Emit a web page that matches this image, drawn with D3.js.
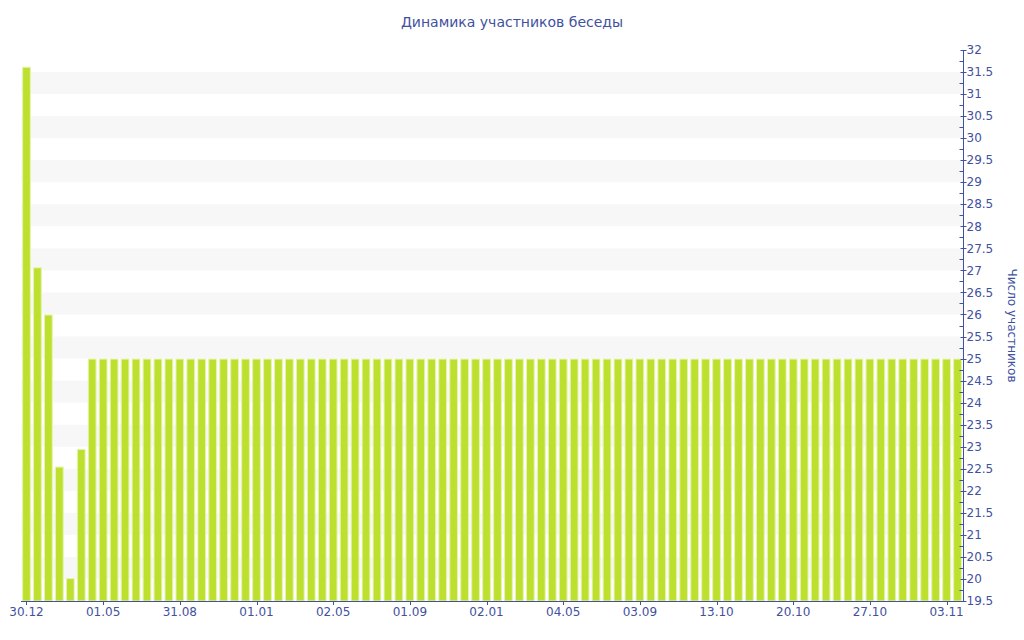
<!DOCTYPE html>
<html>
<head>
<meta charset="utf-8">
<script src="https://cdn.jsdelivr.net/npm/d3@7"></script>
<style>
  html, body { margin: 0; padding: 0; background: #fff; }
  svg { display: block; }
  text { font-family: "DejaVu Sans", Verdana, sans-serif; }
</style>
</head>
<body>
<svg id="chart" width="1024" height="640"></svg>
<script>
// ---- data ----
const title = "Динамика участников беседы";
const yTitle = "Число участников";
const values = [
  31.62, 27.07, 26, 22.55, 20.02, 22.95,
  25, 25, 25, 25, 25, 25, 25, 25, 25, 25,
  25, 25, 25, 25, 25, 25, 25, 25, 25, 25,
  25, 25, 25, 25, 25, 25, 25, 25, 25, 25,
  25, 25, 25, 25, 25, 25, 25, 25, 25, 25,
  25, 25, 25, 25, 25, 25, 25, 25, 25, 25,
  25, 25, 25, 25, 25, 25, 25, 25, 25, 25,
  25, 25, 25, 25, 25, 25, 25, 25, 25, 25,
  25, 25, 25, 25, 25, 25, 25, 25, 25, 25
];
const tickLabels = ["30.12", "01.05", "31.08", "01.01", "02.05", "01.09", "02.01",
                    "04.05", "03.09", "13.10", "20.10", "27.10", "03.11"];
const tickIndices = [0, 7, 14, 21, 28, 35, 42, 49, 56, 63, 70, 77, 84];
const yMin = 19.5, yMax = 32;

// ---- layout ----
const svg = d3.select("#chart");
const pLeft = 21, pRight = 963, pTop = 50, pBottom = 601;
const axisColor = "#3f51a0";
const textColor = "#3f51a0";

const categories = values.map((v, i) => i);
const x = d3.scaleBand().domain(categories).range([pLeft, pRight])
  .paddingInner(0.2).paddingOuter(0.1);
const y = d3.scaleLinear().domain([yMin, yMax]).range([pBottom, pTop]);

// alternating bands
const bandStarts = d3.range(20, 32, 1);
svg.append("g").selectAll("rect").data(bandStarts).join("rect")
  .attr("x", pLeft).attr("width", pRight - pLeft)
  .attr("y", d => y(d + 0.5)).attr("height", d => y(d) - y(d + 0.5))
  .attr("fill", "#f7f7f7");

// bars
svg.append("g").selectAll("rect").data(values).join("rect")
  .attr("x", (d, i) => x(i) + 0.5)
  .attr("width", x.bandwidth() - 1)
  .attr("y", d => y(d) + 0.5)
  .attr("height", d => y(yMin) - y(d) - 0.5)
  .attr("fill", "#bde02f")
  .attr("stroke", "#e6f3b0")
  .attr("stroke-width", 1);

// y axis (right)
const yAxisG = svg.append("g").attr("transform", `translate(${pRight + 0.5},0)`);
const majorTicks = d3.range(yMin, yMax + 0.001, 0.5);
const minorTicks = d3.range(yMin + 0.25, yMax, 0.5);
yAxisG.append("line").attr("y1", pTop).attr("y2", pBottom + 0.5)
  .attr("stroke", axisColor).attr("stroke-width", 1);
yAxisG.selectAll("line.minor").data(minorTicks).join("line").attr("class", "minor")
  .attr("x1", -4).attr("x2", 0)
  .attr("y1", d => Math.round(y(d)) + 0.5).attr("y2", d => Math.round(y(d)) + 0.5)
  .attr("stroke", axisColor);
yAxisG.selectAll("line.major").data(majorTicks).join("line").attr("class", "major")
  .attr("x1", -3).attr("x2", 3)
  .attr("y1", d => Math.round(y(d)) + 0.5).attr("y2", d => Math.round(y(d)) + 0.5)
  .attr("stroke", axisColor);
yAxisG.selectAll("text").data(majorTicks).join("text")
  .attr("x", 3).attr("y", d => y(d))
  .attr("dy", "0.35em")
  .attr("font-size", 12).attr("fill", textColor)
  .text(d => d3.format("")(d));

// x axis
const xAxisG = svg.append("g");
xAxisG.append("line").attr("x1", pLeft).attr("x2", pRight)
  .attr("y1", pBottom + 0.5).attr("y2", pBottom + 0.5)
  .attr("stroke", axisColor);
xAxisG.selectAll("line.t").data(tickIndices).join("line").attr("class", "t")
  .attr("x1", d => Math.round(x(d) + x.bandwidth() / 2) + 0.5)
  .attr("x2", d => Math.round(x(d) + x.bandwidth() / 2) + 0.5)
  .attr("y1", pBottom).attr("y2", pBottom + 4)
  .attr("stroke", axisColor);
xAxisG.selectAll("text").data(tickIndices).join("text")
  .attr("x", d => x(d) + x.bandwidth() / 2)
  .attr("y", pBottom + 15)
  .attr("text-anchor", "middle")
  .attr("font-size", 12).attr("fill", textColor)
  .text((d, i) => tickLabels[i]);

// title
svg.append("text").attr("x", 512).attr("y", 27)
  .attr("text-anchor", "middle").attr("font-size", 14).attr("fill", textColor)
  .text(title);

// y title (rotated)
svg.append("text")
  .attr("transform", `translate(1008,${(pTop + pBottom) / 2}) rotate(90)`)
  .attr("text-anchor", "middle").attr("font-size", 12).attr("fill", textColor)
  .text(yTitle);
</script>
</body>
</html>
